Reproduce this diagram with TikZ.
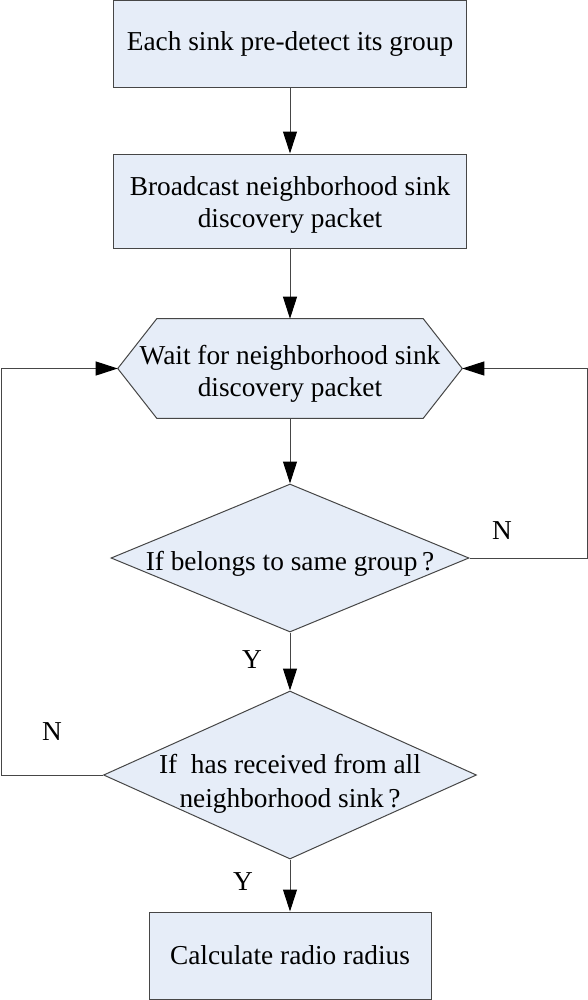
\documentclass[tikz,border=0pt]{standalone}
\usepackage{fontspec}
\setmainfont{Liberation Serif}
\usetikzlibrary{shapes.geometric,arrows.meta}

\definecolor{boxfill}{RGB}{230,237,248}
\definecolor{edgegray}{RGB}{70,70,70}

\tikzset{
  procbox/.style={draw=edgegray, fill=boxfill, line width=0.75pt, align=center, inner sep=0pt, font=\fontsize{20.5}{24.5}\selectfont},
  hexbox/.style={rectangle, inner sep=0pt},
  decbox/.style={diamond, draw=edgegray, fill=boxfill, line width=0.75pt, inner sep=0pt},
  txt/.style={align=center, inner sep=0pt, font=\fontsize{20.5}{24.5}\selectfont},
  flow/.style={draw=edgegray, line width=0.75pt, -{Triangle[length=16.5pt,width=10.5pt,color=black]}}
}

\begin{document}
\begin{tikzpicture}[x=0.75pt,y=0.75pt,yscale=-1,xscale=1]
\useasboundingbox (0,0) rectangle (588,1000);

%Shape: Rectangle [id:pre]
\node[procbox, minimum width=264.75pt, minimum height=65.25pt] (pre) at (290,44) {Each sink pre-detect its group};
%Shape: Rectangle [id:bcast]
\node[procbox, minimum width=264.75pt, minimum height=70.5pt] (bcast) at (290,201) {};
% Text Node
\node[txt] at ([yshift=3pt]bcast) {Broadcast neighborhood sink\\discovery packet};

%Shape: Hexagon [id:wait]
\node[hexbox, minimum width=258pt, minimum height=74.25pt] (wait) at (290,368.5) {};
\draw[draw=edgegray, fill=boxfill, line width=0.75pt] ([xshift=29.25pt]wait.north west) -- ([xshift=-29.25pt]wait.north east) -- (wait.east) -- ([xshift=-29.25pt]wait.south east) -- ([xshift=29.25pt]wait.south west) -- (wait.west) -- cycle;
% Text Node
\node[txt] at ([yshift=4pt]wait) {Wait for neighborhood sink\\discovery packet};

%Shape: Diamond [id:same]
\node[decbox, minimum width=268.5pt, minimum height=111pt] (same) at (290,558) {};
% Text Node
\node[txt] at ([yshift=4pt]same) {If belongs to same group\,?};

%Shape: Diamond [id:all]
\node[decbox, minimum width=279.75pt, minimum height=126pt] (all) at (290,775) {};
% Text Node
\node[txt, font=\fontsize{20.5}{25.5}\selectfont] at ([yshift=6.5pt]all) {If~~has received from all\\neighborhood sink\,?};

%Shape: Rectangle [id:calc]
\node[procbox, minimum width=211.5pt, minimum height=65.25pt] (calc) at (290,955.5) {Calculate radio radius};

%Return lines
\coordinate (rgt) at (587,0);
\coordinate (lft) at (1.5,0);

%Straight Lines
\draw[flow] (pre) -- (bcast);
\draw[flow] (bcast) -- (wait);
\draw[flow] (wait.south) -- (same.north);
\draw[flow] (same.south) -- (all.north);
\draw[flow] (all.south) -- (calc.north);
\draw[flow] (same.east) -- (same.east -| rgt) |- (wait.east);
\draw[flow] (all.west) -- (all.west -| lft) |- (wait.west);

% Text Node
\node[txt] (n1) at (502,531) {N};
% Text Node
\node[txt] (y1) at (252,660) {Y};
% Text Node
\node[txt] (n2) at (52,732) {N};
% Text Node
\node[txt] (y2) at (243,882) {Y};

\end{tikzpicture}
\end{document}
